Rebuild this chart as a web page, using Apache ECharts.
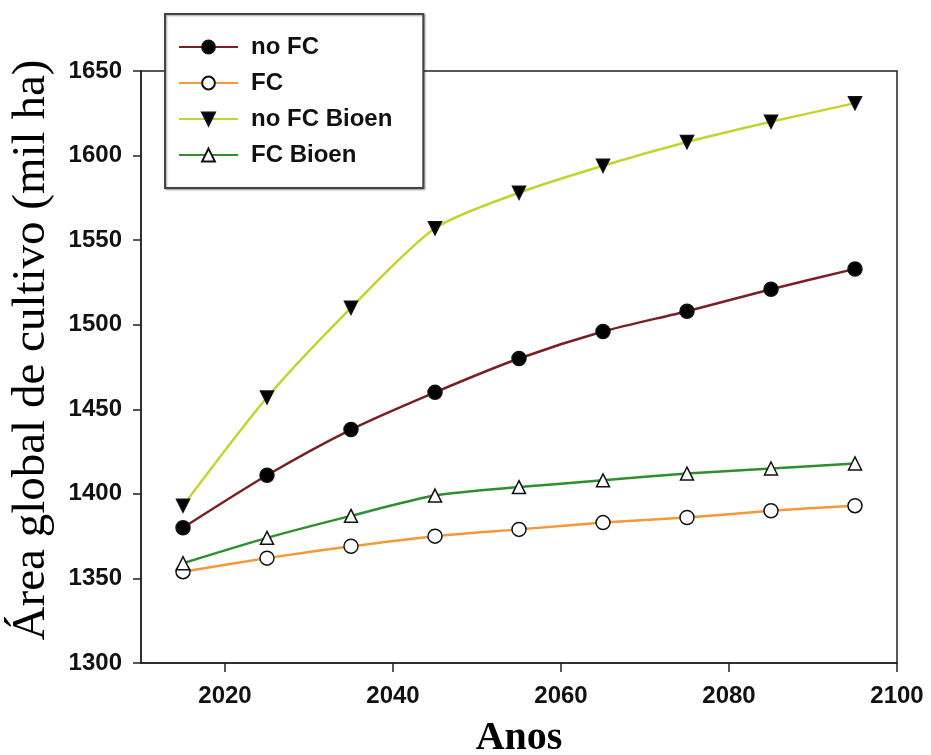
<!DOCTYPE html>
<html>
<head>
<meta charset="utf-8">
<script src="https://cdn.jsdelivr.net/npm/echarts@6/dist/echarts.min.js"></script>
<style>
  html, body { margin: 0; padding: 0; background: #fff; }
  #chart { width: 931px; height: 755px; }
</style>
</head>
<body>
<div id="chart"></div>
<script>
// anos das projecoes
var years = [2015, 2025, 2035, 2045, 2055, 2065, 2075, 2085, 2095];
// area global de cultivo (mil ha)
var noFC = [1380, 1411, 1438, 1460, 1480, 1496, 1508, 1521, 1533];
var FC = [1354, 1362, 1369, 1375, 1379, 1383, 1386, 1390, 1393];
var noFCBioen = [1393, 1457, 1510, 1557, 1578, 1594, 1608, 1620, 1631];
var FCBioen = [1359, 1374, 1387, 1399, 1404, 1408, 1412, 1415, 1418];
var xTicks = [2020, 2040, 2060, 2080, 2100];

var tickFont = '"Liberation Sans", Arial, sans-serif';
var serifFont = '"Liberation Serif", "Times New Roman", serif';

function pairs(vals) {
    return years.map(function (y, i) { return [y, vals[i]]; });
}

var myChart = echarts.init(document.getElementById('chart'));

function lineSeries(name, vals, lineColor, symbol, fill, rotate) {
    return {
        name: name,
        type: 'line',
        data: pairs(vals),
        smooth: 0.25,
        symbol: symbol,
        symbolSize: symbol === 'circle' ? 14 : 13,
        symbolRotate: rotate || 0,
        lineStyle: { color: lineColor, width: 2.5 },
        itemStyle: { color: fill, borderColor: '#111', borderWidth: 1.5, opacity: 1 },
        emphasis: { disabled: true },
        z: 3
    };
}

var option = {
    animation: false,
    grid: {
        left: 141, right: 34, top: 71, bottom: 92,
        outerBoundsMode: 'none',
        containLabel: false,
        show: true,
        borderColor: '#222',
        borderWidth: 1.5,
        backgroundColor: 'transparent'
    },
    legend: {
        orient: 'vertical',
        left: 165,
        top: 14,
        padding: [20, 31, 20, 13],
        itemGap: 10,
        itemWidth: 59,
        itemHeight: 16,
        backgroundColor: '#fff',
        borderColor: '#444',
        borderWidth: 2,
        shadowColor: 'rgba(0,0,0,0.35)',
        shadowOffsetX: 1,
        shadowOffsetY: 1,
        shadowBlur: 2,
        textStyle: {
            fontFamily: tickFont,
            fontWeight: 'bold',
            fontSize: 24,
            lineHeight: 26,
            color: '#111',
            padding: [0, 0, 0, 8]
        },
        data: ['no FC', 'FC', 'no FC Bioen', 'FC Bioen']
    },
    xAxis: {
        type: 'value',
        min: 2010,
        max: 2100,
        name: 'Anos',
        nameLocation: 'middle',
        nameGap: 56,
        nameTextStyle: { fontFamily: serifFont, fontWeight: 'bold', fontSize: 40, color: '#000' },
        splitLine: { show: false },
        axisLine: { lineStyle: { color: '#222', width: 1.5 } },
        axisTick: { length: 9, customValues: xTicks, lineStyle: { color: '#222', width: 1.5 } },
        axisLabel: {
            customValues: xTicks,
            margin: 21,
            fontFamily: tickFont,
            fontWeight: 'bold',
            fontSize: 24,
            color: '#111',
            formatter: function (v) { return String(v); }
        }
    },
    yAxis: {
        type: 'value',
        min: 1300,
        max: 1650,
        interval: 50,
        name: 'Área global de cultivo (mil ha)',
        nameLocation: 'middle',
        nameGap: 86,
        nameTextStyle: {
            fontFamily: serifFont, fontWeight: 'normal', fontSize: 47, color: '#000',
            padding: [0, 0, 0, 34]
        },
        splitLine: { show: false },
        axisLine: { show: true, lineStyle: { color: '#222', width: 1.5 } },
        axisTick: { show: true, length: 8, lineStyle: { color: '#222', width: 1.5 } },
        axisLabel: {
            margin: 19,
            fontFamily: tickFont,
            fontWeight: 'bold',
            fontSize: 24,
            color: '#111',
            formatter: function (v) { return String(v); }
        }
    },
    series: [
        lineSeries('no FC', noFC, '#7a1f24', 'circle', '#000'),
        lineSeries('FC', FC, '#f29a3a', 'circle', '#fff'),
        lineSeries('no FC Bioen', noFCBioen, '#c5d32e', 'triangle', '#000', 180),
        lineSeries('FC Bioen', FCBioen, '#2f8f2f', 'triangle', '#fff')
    ]
};

myChart.setOption(option);
</script>
</body>
</html>
